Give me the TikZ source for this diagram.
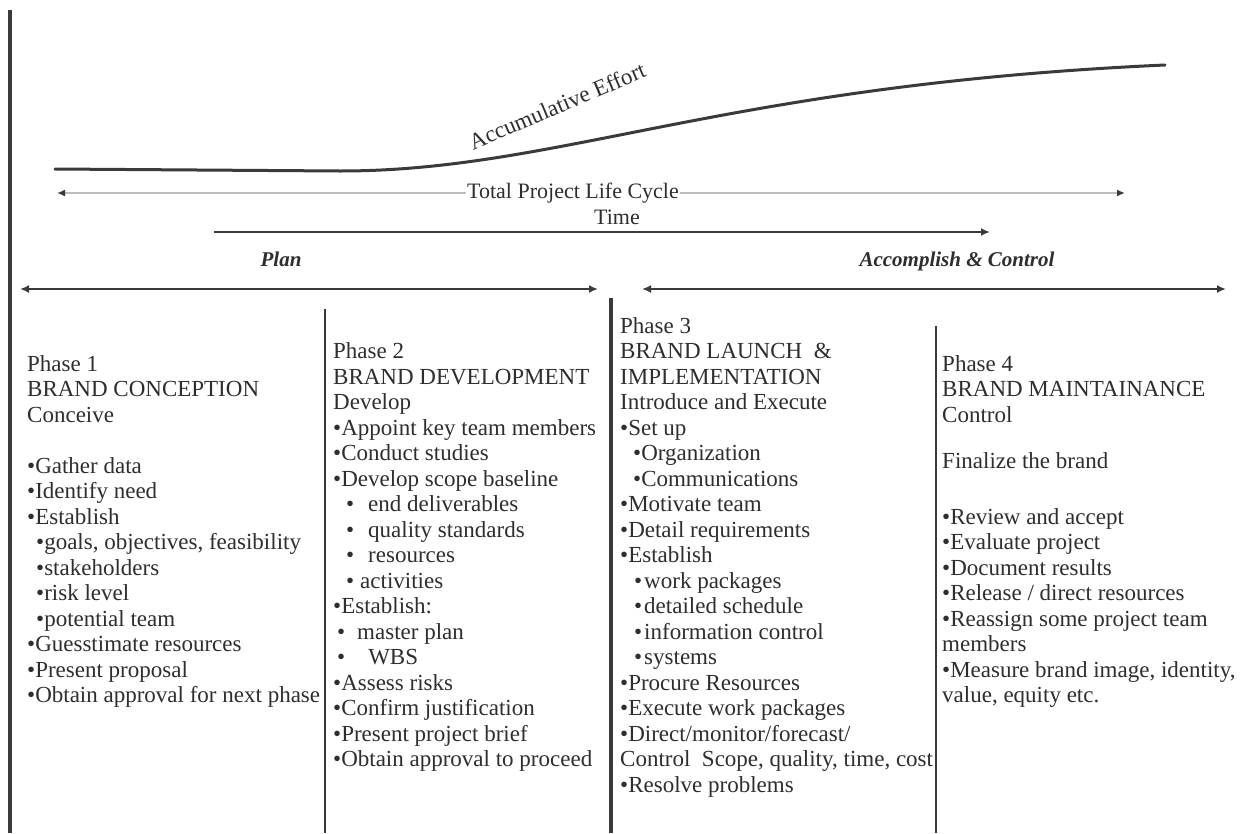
\documentclass[tikz,border=0pt]{standalone}
\usepackage{fontspec}
\setmainfont{Liberation Serif}
\usetikzlibrary{arrows.meta}
\definecolor{ink}{HTML}{2E2E2E}
\definecolor{rulec}{HTML}{3A3A3A}
\definecolor{faint}{HTML}{BDBDBD}
\tikzset{
  txt/.style={anchor=base west, inner sep=0pt, text=ink, font=\fontsize{23}{25}\selectfont},
  toplabel/.style={inner sep=1pt, text=ink, font=\fontsize{22}{25}\selectfont},
  phaselabel/.style={inner sep=1pt, text=ink, font=\fontsize{21}{24}\bfseries\itshape},
  arr/.style={-{Latex[length=9pt,width=8pt]}},
  darr/.style={{Latex[length=9pt,width=8pt]}-{Latex[length=9pt,width=8pt]}},
  vthick/.style={rulec, line width=3.5pt},
  vthin/.style={rulec, line width=1.6pt}
}
\newcommand\tline[4]{\node[txt] (#1) at (#2,#3) {#4};}
\begin{document}
\begin{tikzpicture}[x=1pt,y=-1pt]
\useasboundingbox (0,0) rectangle (1260,833);
\fill[white] (0,0) rectangle (1260,833);

% vertical rules
\draw[vthick] (10,10) -- (10,833);
\draw[vthin] (325,309) -- (325,833);
\draw[vthick] (611,298) -- (611,833);
\draw[vthin] (936,326) -- (936,833);

% accumulative effort curve
\coordinate (cs) at (55,169);
\coordinate (cm) at (340,171);
\coordinate (ce) at (1165,65);
\draw[rulec, line width=3pt, line cap=round] (cs) -- (cm) .. controls (560,171) and (720,85) .. (ce);
\node[toplabel, font=\fontsize{23}{25}\selectfont, rotate=23] (effort) at (557,106) {Accumulative Effort};

% total project life cycle
\node[toplabel] (tplc) at (573,193) {Total Project Life Cycle};
\coordinate (tl) at (57,193);
\coordinate (tr) at (1125,193);
\draw[faint, line width=2pt, -{Latex[length=8pt,width=7pt,color=rulec]}] (tplc.west) -- (tl);
\draw[faint, line width=2pt, -{Latex[length=8pt,width=7pt,color=rulec]}] (tplc.east) -- (tr);

% time
\node[toplabel] (time) at (617,217) {Time};
\coordinate (ts) at (214,232);
\coordinate (te) at (990,232);
\draw[rulec, line width=2.6pt, arr] (ts) -- (te);

% plan / accomplish
\node[phaselabel] (plan) at (281,259) {Plan};
\node[phaselabel] (accomp) at (957,261) {Accomplish \& Control};
\coordinate (pl) at (20,289);
\coordinate (pr) at (598,289);
\coordinate (al) at (642,289);
\coordinate (ar) at (1226,289);
\draw[rulec, line width=2.2pt, darr] (pl) -- (pr);
\draw[rulec, line width=2.2pt, darr] (al) -- (ar);

% column 1
\tline{a1}{27}{371}{Phase 1}
\tline{a2}{27}{396.5}{BRAND CONCEPTION}
\tline{a3}{27}{422}{Conceive}
\tline{a5}{27}{473}{•Gather data}
\tline{a6}{27}{498.5}{•Identify need}
\tline{a7}{27}{524}{•Establish}
\tline{a8}{36}{549.5}{•goals, objectives, feasibility}
\tline{a9}{36}{575}{•stakeholders}
\tline{a10}{36}{600.5}{•risk level}
\tline{a11}{36}{626}{•potential team}
\tline{a12}{27}{651.5}{•Guesstimate resources}
\tline{a13}{27}{677}{•Present proposal}
\tline{a14}{27}{702.5}{•Obtain approval for next phase}

% column 2
\tline{b1}{333}{358.5}{Phase 2}
\tline{b2}{333}{384}{BRAND DEVELOPMENT}
\tline{b3}{333}{409.5}{Develop}
\tline{b4}{333}{435}{•Appoint key team members}
\tline{b5}{333}{460.5}{•Conduct studies}
\tline{b6}{333}{486}{•Develop scope baseline}
\tline{b7}{346}{511.5}{•\hspace{14pt}end deliverables}
\tline{b8}{346}{537}{•\hspace{14pt}quality standards}
\tline{b9}{346}{562.5}{•\hspace{14pt}resources}
\tline{b10}{346}{588}{•\hspace{6pt}activities}
\tline{b11}{333}{613.5}{•Establish:}
\tline{b12}{337}{639}{•\hspace{12pt}master plan}
\tline{b13}{337}{664.5}{•\hspace{23pt}WBS}
\tline{b14}{333}{690}{•Assess risks}
\tline{b15}{333}{715.5}{•Confirm justification}
\tline{b16}{333}{741}{•Present project brief}
\tline{b17}{333}{766.5}{•Obtain approval to proceed}

% column 3
\tline{c1}{620}{333}{Phase 3}
\tline{c2}{620}{358.5}{BRAND LAUNCH \ \&}
\tline{c3}{620}{384}{IMPLEMENTATION}
\tline{c4}{620}{409.5}{Introduce and Execute}
\tline{c5}{620}{435}{•Set up}
\tline{c6}{633}{460.5}{•Organization}
\tline{c7}{633}{486}{•Communications}
\tline{c8}{620}{511.5}{•Motivate team}
\tline{c9}{620}{537}{•Detail requirements}
\tline{c10}{620}{562.5}{•Establish}
\tline{c11}{634}{588}{•\hspace{2pt}work packages}
\tline{c12}{634}{613.5}{•\hspace{2pt}detailed schedule}
\tline{c13}{634}{639}{•\hspace{2pt}information control}
\tline{c14}{634}{664.5}{•\hspace{2pt}systems}
\tline{c15}{620}{690}{•Procure Resources}
\tline{c16}{620}{715.5}{•Execute work packages}
\tline{c17}{620}{741}{•Direct/monitor/forecast/}
\tline{c18}{620}{766.5}{Control \ Scope, quality, time, cost}
\tline{c19}{620}{792}{•Resolve problems}

% column 4
\tline{d1}{942}{371}{Phase 4}
\tline{d2}{942}{396.5}{BRAND MAINTAINANCE}
\tline{d3}{942}{422}{Control}
\tline{d4}{942}{468}{Finalize the brand}
\tline{d6}{942}{524}{•Review and accept}
\tline{d7}{942}{549.5}{•Evaluate project}
\tline{d8}{942}{575}{•Document results}
\tline{d9}{942}{600.5}{•Release / direct resources}
\tline{d10}{942}{626}{•Reassign some project team}
\tline{d11}{942}{651.5}{members}
\tline{d12}{942}{677}{•Measure brand image, identity,}
\tline{d13}{942}{702.5}{value, equity etc.}
\end{tikzpicture}
\end{document}
